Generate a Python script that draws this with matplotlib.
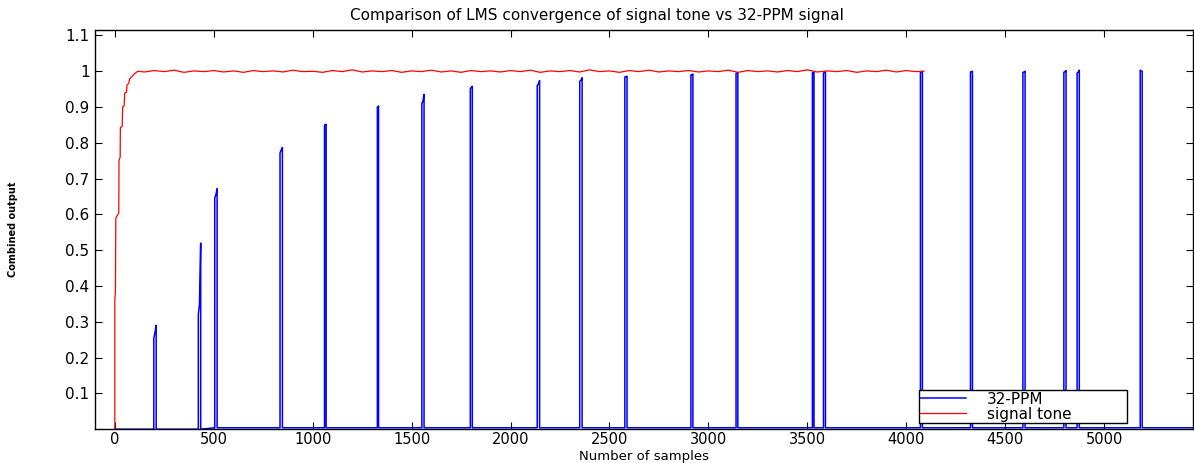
import numpy as np
import matplotlib.pyplot as plt

# signal tone: stair-like rise
tone_rise_x = [0, 0, 3, 5, 20, 21, 27, 28, 37, 40, 47, 50, 59, 62, 70, 75, 87, 97, 116]
tone_rise_y = [0.0, 0.361, 0.384, 0.59, 0.604, 0.751, 0.76, 0.843, 0.845, 0.901, 0.903,
               0.939, 0.942, 0.962, 0.966, 0.979, 0.985, 0.992, 1.0]
# plateau values every 50 samples from 150 to 4050, then ends at 4090
tone_plateau = [0.998, 1.002, 0.999, 1.003, 0.997, 1.001, 0.999, 1.002, 0.998, 1.001,
                0.997, 1.002, 0.999, 1.001, 0.998, 1.003, 0.999, 1.000, 0.997, 1.002,
                0.999, 1.004, 0.998, 1.001, 0.999, 1.002, 0.997, 1.001, 0.999, 1.003,
                0.998, 1.001, 0.997, 1.002, 0.999, 1.001, 0.998, 1.002, 0.999, 1.003,
                0.997, 1.001, 0.999, 1.002, 0.998, 1.004, 0.999, 1.001, 0.997, 1.002,
                0.999, 1.003, 0.998, 1.001, 0.999, 1.002, 0.998, 1.001, 0.999, 1.003,
                0.997, 1.002, 0.999, 1.001, 0.998, 1.002, 0.999, 1.004, 0.998, 1.001,
                0.999, 1.002, 0.997, 1.001, 0.999, 1.003, 0.998, 1.002, 0.999]
tone_end = (4090, 1.0)

# 32-PPM: pulse start sample, width and top values (start, middle, end)
ppm_start = [197, 422, 505, 835, 1060, 1327, 1552, 1797, 2135, 2350, 2578,
             2912, 3140, 3526, 3582, 4072, 4325, 4590, 4797, 4864, 5183]
ppm_width = [12, 12, 12, 12, 8, 6, 11, 10, 12, 12, 11,
             10, 9, 8, 10, 10, 10, 11, 11, 11, 10]
ppm_top = [(0.255, 0.27, 0.29), (0.32, 0.35, 0.52), (0.645, 0.655, 0.672),
           (0.772, 0.78, 0.787), (0.85, 0.85, 0.852), (0.90, 0.90, 0.903),
           (0.91, 0.917, 0.935), (0.952, 0.955, 0.958), (0.96, 0.965, 0.974),
           (0.972, 0.975, 0.982), (0.984, 0.985, 0.986), (0.99, 0.99, 0.992),
           (0.994, 0.995, 0.996), (0.996, 0.997, 0.997), (0.995, 0.997, 0.998),
           (0.998, 0.999, 1.0), (0.998, 0.999, 1.0), (0.997, 0.998, 1.0),
           (0.997, 0.999, 1.002), (0.995, 0.998, 1.003), (1.003, 1.001, 1.0)]
ppm_floor_early = 0.0    # before sample ~500
ppm_floor_late = 0.004   # after sample ~500
ppm_last = 5500

xticks = [0, 500, 1000, 1500, 2000, 2500, 3000, 3500, 4000, 4500, 5000]
yticks = [0.1, 0.2, 0.3, 0.4, 0.5, 0.6, 0.7, 0.8, 0.9, 1.0, 1.1]
ylabels = ['0.1', '0.2', '0.3', '0.4', '0.5', '0.6', '0.7', '0.8', '0.9', '1', '1.1']

# build line vertices
tone_x = list(tone_rise_x) + list(np.arange(150, 4100, 50)) + [tone_end[0]]
tone_y = list(tone_rise_y) + tone_plateau + [tone_end[1]]

ppm_x, ppm_y = [0], [ppm_floor_early]
for s, w, (a, b, c) in zip(ppm_start, ppm_width, ppm_top):
    f = ppm_floor_early if s < 500 else ppm_floor_late
    ppm_x += [s, s, s + w / 2, s + w, s + w]
    ppm_y += [f, a, b, c, f]
ppm_x.append(ppm_last)
ppm_y.append(ppm_floor_late)

plt.rcParams['font.family'] = 'DejaVu Sans'
fig = plt.figure(figsize=(11.94, 4.63), dpi=100)
ax = fig.add_axes([0.0796, 0.073, 0.9196, 0.862])

ax.plot(ppm_x, ppm_y, color='#0000ff', lw=1.1, label='32-PPM')
ax.plot(tone_x, tone_y, color='#ff0000', lw=0.9, label='signal tone')

ax.set_xlim(-100, 5450)
ax.set_ylim(0, 1.115)
ax.set_xticks(xticks)
ax.set_yticks(yticks)
ax.set_yticklabels(ylabels)
ax.tick_params(direction='in', top=True, right=True, length=5, width=0.8,
               labelsize=10.5, pad=2)
ax.tick_params(axis='y', pad=4, labelsize=11)
for sp in ax.spines.values():
    sp.set_linewidth(1.0)

fig.text(0.5394, 0.0, 'Number of samples', ha='center', va='bottom', fontsize=9.5)
ax.set_ylabel('Combined output', fontsize=7, fontweight='bold', labelpad=34)
fig.text(0.5, 0.967, 'Comparison of LMS convergence of signal tone vs 32-PPM signal',
         ha='center', va='center', fontsize=11)

leg = ax.legend(loc='lower left', bbox_to_anchor=(0.75, 0.015, 0.19, 0.08),
                mode='expand', fontsize=11, handlelength=3, borderpad=0.1,
                labelspacing=0.0, handletextpad=1.4,
                fancybox=False, framealpha=1, borderaxespad=0)
leg.get_frame().set_edgecolor('black')
leg.get_frame().set_linewidth(1.0)

fig.savefig('out.png', dpi=100)
